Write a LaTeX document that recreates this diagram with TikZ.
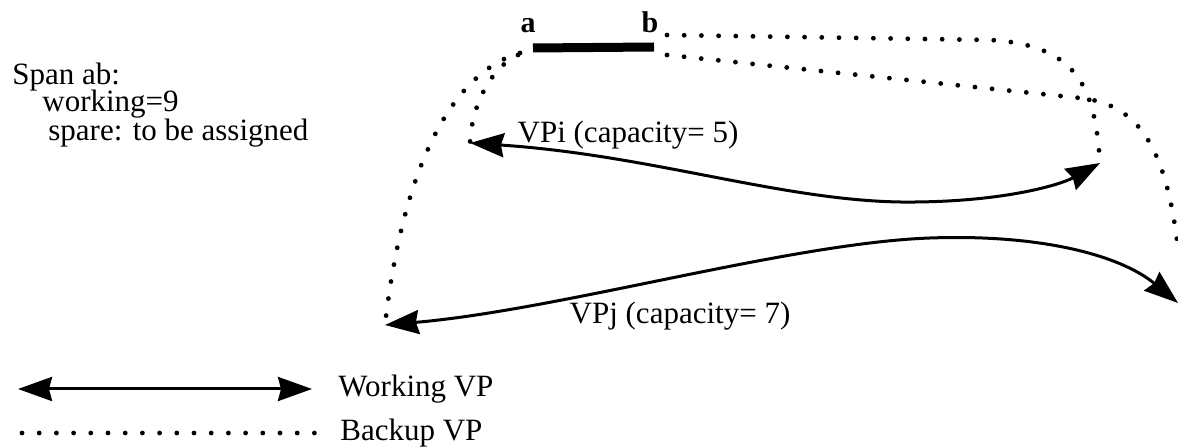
\documentclass[tikz,border=0pt]{standalone}
\usepackage{fontspec}
\setmainfont{Liberation Serif}
\usetikzlibrary{arrows.meta}

\begin{document}
\begin{tikzpicture}[x=0.5pt, y=-0.5pt]
    \tikzstyle{working} = [line width=1.5pt, {Stealth[length=17pt, width=12pt, inset=1.5pt]}-{Stealth[length=17pt, width=12pt, inset=1.5pt]}];
    \tikzstyle{backup} = [line width=2.4pt, line cap=round, dash pattern=on 0pt off 8.6pt];
    \tikzstyle{lbl} = [font=\fontsize{15.5}{18}\selectfont, inner sep=0pt];

    \useasboundingbox (0, 0) rectangle (1178, 448);

    % span ab
    \coordinate (a) at (533, 48);
    \coordinate (b) at (654, 47);
    \node[lbl, anchor=base, font=\fontsize{15}{18}\selectfont\bfseries] at (528, 33) (alabel) {a};
    \node[lbl, anchor=base, font=\fontsize{15}{18}\selectfont\bfseries] at (650, 33) (blabel) {b};
    \draw[line width=4.5pt] (a) -- (b);

    % ends of the working VPs
    \coordinate (vpiL) at (470, 143);
    \coordinate (vpiR) at (1100, 163);
    \coordinate (vpjL) at (385, 325);
    \coordinate (vpjR) at (1178, 303);

    % starts of the backup VPs
    \coordinate (a1) at (520, 53);
    \coordinate (a2) at (518, 55);
    \coordinate (b1) at (667, 35);
    \coordinate (b2) at (667, 55);
    \coordinate (rim) at (1177, 240);

    \node[lbl, anchor=west] at (12, 77) (span) {Span ab:};
    \node[lbl, anchor=west] at (42, 104) (work) {working=9};
    \node[lbl, anchor=west] at (48, 133) (spare) {spare: to be assigned};

    \draw[working] (vpiL) .. controls (650, 155) and (780, 200) .. (900, 202)
        .. controls (1000, 203) and (1060, 185) .. (vpiR);
    \node[lbl] at (628, 135) (vpi) {VPi (capacity= 5)};

    \draw[working] (vpjL) .. controls (560, 310) and (790, 243) .. (930, 238)
        .. controls (1040, 234) and (1120, 255) .. (vpjR);
    \node[lbl] at (680, 316) (vpj) {VPj (capacity= 7)};

    \draw[backup] (a1) .. controls (460, 70) and (405, 150) .. (vpjL);
    \draw[backup] (a2) .. controls (495, 65) and (472, 100) .. (vpiL);
    \draw[backup] (b1) -- (990, 40) .. controls (1080, 45) and (1095, 90) .. (vpiR);
    \draw[backup] (b2) -- (1080, 98) .. controls (1140, 104) and (1165, 150) .. (rim);

    % legend
    \coordinate (w1) at (18, 389);
    \coordinate (w2) at (312, 389);
    \coordinate (k1) at (22, 433);
    \coordinate (k2) at (316, 433);
    \draw[working] (w1) -- (w2);
    \node[lbl, anchor=west] at (338, 389) (wlabel) {Working VP};
    \draw[backup] (k1) -- (k2);
    \node[lbl, anchor=west] at (340, 433) (klabel) {Backup VP};
\end{tikzpicture}
\end{document}
